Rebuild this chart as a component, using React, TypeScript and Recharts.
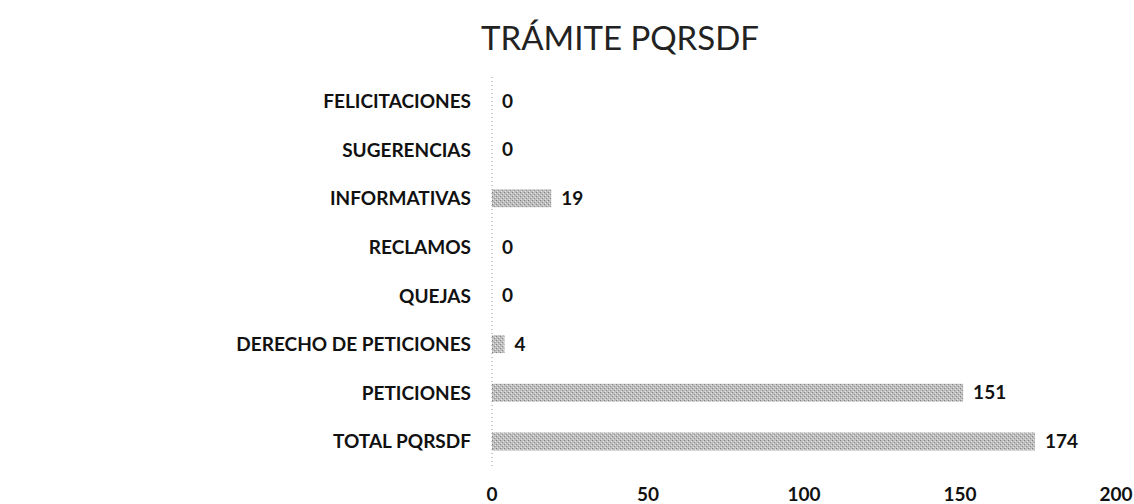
import React from "react";
import { BarChart, Bar, XAxis, YAxis, LabelList } from "recharts";

const categories = [
  "FELICITACIONES",
  "SUGERENCIAS",
  "INFORMATIVAS",
  "RECLAMOS",
  "QUEJAS",
  "DERECHO DE PETICIONES",
  "PETICIONES",
  "TOTAL PQRSDF",
];
const values = [0, 0, 19, 0, 0, 4, 151, 174];
const xTicks = [0, 50, 100, 150, 200];

const data = categories.map((name, i) => ({ name, value: values[i] }));

const FONT = "Lato, 'Open Sans', sans-serif";

export default function App() {
  return (
    <div style={{ position: "absolute", left: 0, top: 0, width: 1134, height: 504, background: "#fff" }}>
      <div
        style={{
          position: "absolute",
          left: 0,
          top: 17,
          width: 1240,
          textAlign: "center",
          fontFamily: FONT,
          fontSize: 33,
          color: "#222",
        }}
      >
        TRÁMITE PQRSDF
      </div>
      <BarChart
        width={1134}
        height={504}
        data={data}
        layout="vertical"
        margin={{ top: 77, right: 18, bottom: 8, left: 0 }}
        barSize={18}
      >
        <defs>
          <pattern id="tex" width="4" height="4" patternUnits="userSpaceOnUse">
            <rect width="4" height="4" fill="#bdbdbd" />
            <rect x="0" y="0" width="1" height="1" fill="#808080" />
            <rect x="2" y="2" width="1" height="1" fill="#929292" />
            <rect x="3" y="1" width="1" height="1" fill="#e6e6e6" />
            <rect x="1" y="3" width="1" height="1" fill="#e6e6e6" />
          </pattern>
        </defs>
        <XAxis
          type="number"
          domain={[0, 200]}
          ticks={xTicks}
          axisLine={false}
          tickLine={false}
          height={30}
          tickMargin={16}
          tick={{ fontFamily: FONT, fontSize: 19, fill: "#111", fontWeight: 700 }}
        />
        <YAxis
          type="category"
          dataKey="name"
          width={492}
          axisLine={{ stroke: "#999", strokeDasharray: "1 3" }}
          tickLine={false}
          tickMargin={15}
          tick={{ fontFamily: FONT, fontSize: 19, fill: "#111", fontWeight: 700 }}
        />
        <Bar dataKey="value" fill="url(#tex)" minPointSize={0.01} isAnimationActive={false}>
          <LabelList
            dataKey="value"
            position="right"
            offset={10}
            style={{ fontFamily: FONT, fontSize: 19, fill: "#111", fontWeight: 700 }}
          />
        </Bar>
      </BarChart>
    </div>
  );
}
